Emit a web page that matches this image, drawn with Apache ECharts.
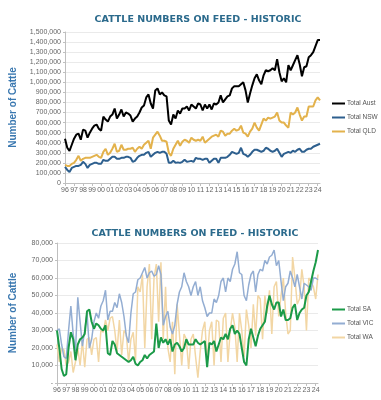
<!DOCTYPE html>
<html><head><meta charset="utf-8">
<script src="https://cdn.jsdelivr.net/npm/echarts@6/dist/echarts.min.js"></script>
<style>html,body{margin:0;padding:0;background:#fff}#c{width:381px;height:400px}</style>
</head><body><div id="c"></div>
<script>
const years = ['96','97','98','99','00','01','02','03','04','05','06','07','08','09','10','11','12','13','14','15','16','17','18','19','20','21','22','23','24'];
const nPoints = 114;
// Top chart (thousands of head)
const totalAust = [440,350,320,380,440,480,490,430,530,520,450,500,540,570,580,540,520,660,630,610,660,680,740,640,680,730,660,700,690,670,610,640,660,700,750,770,850,880,790,740,920,940,880,900,870,860,620,580,680,640,720,690,740,740,760,720,780,760,740,790,780,720,780,740,780,730,790,780,800,870,800,830,860,870,940,960,960,960,980,1000,920,800,890,970,1040,1080,1020,980,1070,1120,1110,1120,1140,1120,1230,1100,1010,1040,1000,1170,1120,1170,1220,1270,1180,1060,1150,1160,1250,1270,1300,1360,1420,1420];
const totalNSW = [160,130,110,150,160,170,170,180,210,190,150,180,190,200,200,190,190,230,220,220,240,260,260,240,240,250,250,260,260,250,210,220,250,270,280,280,300,310,260,280,300,310,300,310,310,290,200,200,220,200,205,200,210,230,210,215,220,210,250,240,240,230,240,240,200,220,240,240,200,250,250,250,260,280,310,300,290,300,350,290,280,260,280,310,330,330,320,310,320,350,340,320,310,320,340,300,260,290,300,310,300,320,310,330,340,310,310,330,340,340,360,370,380,390];
const totalQLD = [180,170,170,190,200,230,270,220,240,250,250,250,260,270,280,260,250,310,340,280,300,340,390,310,320,380,330,330,340,340,350,310,340,360,340,380,400,420,340,450,480,510,470,420,420,410,300,270,340,380,420,370,410,430,420,400,450,430,420,430,420,460,400,420,440,460,470,480,460,520,510,470,490,490,520,540,520,530,570,500,490,460,510,540,600,550,520,580,640,620,650,640,650,660,700,620,600,600,570,550,700,680,700,750,680,620,660,660,760,760,760,820,850,820];
// Bottom chart (thousands of head)
const totalSA = [30,20,8,4,5,20,29,25,13,22,25,26,28,41,42,35,31,34,33,31,30,33,17,16,24,22,17,16,15,14,13,12,13,15,11,10,12,13,16,14,16,17,18,34,20,26,23,25,22,25,18,22,23,21,18,20,25,22,22,22,25,23,22,23,24,9,23,22,24,18,22,26,25,28,25,31,33,28,30,28,20,12,10,25,31,26,21,27,31,33,35,44,50,45,42,46,46,38,42,36,36,37,43,45,36,40,42,43,50,52,58,64,69,76];
const totalVIC = [30,31,22,15,14,30,44,28,18,49,35,21,30,40,20,25,35,40,37,44,47,53,36,41,41,46,43,51,46,38,27,23,40,51,52,59,60,63,66,60,63,64,61,62,67,62,33,38,41,32,28,33,45,52,55,63,58,55,50,55,58,50,55,47,43,38,40,40,48,46,50,58,60,52,60,58,65,68,75,63,62,50,47,56,62,64,52,62,65,64,70,68,72,73,76,67,70,58,47,55,57,64,60,55,62,55,48,57,56,55,53,60,60,59];
const totalWA = [22,12,20,19,10,12,18,6,12,20,10,24,9,25,26,16,25,26,12,30,29,36,30,37,38,30,18,36,16,30,28,12,25,29,13,55,52,62,20,55,68,25,60,68,35,69,25,55,20,12,35,5,45,28,10,28,25,8,25,28,15,3,18,30,35,12,30,35,10,36,35,12,37,40,12,30,40,32,12,40,30,15,42,33,20,45,27,50,48,25,50,40,53,28,55,58,38,50,60,40,28,30,72,60,45,48,65,55,30,60,58,55,48,62];

const cats = [];
for (let i = 0; i < nPoints; i++) cats.push(years[Math.floor(i / 4)]);
const k = a => a.map(v => v * 1000);

const titleColor = '#2B6A8C';
const axisTxt = '#666';
const font = 'Liberation Sans, Arial, sans-serif';
const fmtTop = v => v === 0 ? '0' : v.toLocaleString('en-US');
const fmtBot = v => v === 0 ? '-' : v.toLocaleString('en-US');

function xAx(gi) {
  return {
    type: 'category', gridIndex: gi, data: cats, boundaryGap: false,
    axisLine: { lineStyle: { color: '#BFBFBF' } },
    axisTick: { show: true, interval: 3, length: 3, lineStyle: { color: '#BFBFBF' } },
    axisLabel: { interval: 3, color: axisTxt, fontSize: 7, fontFamily: font, margin: 4 },
    splitLine: { show: false }
  };
}
function yAx(gi, max, interval, fmt) {
  return {
    type: 'value', gridIndex: gi, min: 0, max: max, interval: interval,
    name: 'Number of Cattle', nameLocation: 'middle', nameRotate: 90,
    nameGap: gi === 0 ? 47 : 39,
    nameTextStyle: { color: '#3A78B0', fontSize: 10, fontWeight: 'bold', fontFamily: font },
    axisLine: { show: true, lineStyle: { color: '#BFBFBF' } },
    axisTick: { show: true, length: 2, lineStyle: { color: '#BFBFBF' } },
    axisLabel: { color: axisTxt, fontSize: 7, fontFamily: font, margin: 4, formatter: fmt },
    splitLine: { lineStyle: { color: '#EAEAEA', width: 1 } }
  };
}
function ln(name, data, color, width, gi) {
  return { name, type: 'line', data, xAxisIndex: gi, yAxisIndex: gi, symbol: 'none',
    lineStyle: { color, width }, itemStyle: { color }, animation: false };
}
const legendText = { color: '#555', fontSize: 6.5, fontFamily: font, padding: [0, 0, 0, -3] };

const chart = echarts.init(document.getElementById('c'), null, { renderer: 'canvas' });
chart.setOption({
  animation: false,
  backgroundColor: '#fff',
  title: [
    { text: 'CATTLE NUMBERS ON FEED - HISTORIC', left: 193, textAlign: 'center', top: 10,
      textStyle: { color: titleColor, fontSize: 9.5, fontWeight: 'bold', fontFamily: 'DejaVu Sans, sans-serif' } },
    { text: 'CATTLE NUMBERS ON FEED - HISTORIC', left: 190, textAlign: 'center', top: 224,
      textStyle: { color: titleColor, fontSize: 9.5, fontWeight: 'bold', fontFamily: 'DejaVu Sans, sans-serif' } }
  ],
  grid: [
    { left: 58, top: 32, width: 262, height: 151 },
    { left: 50, top: 243, width: 268, height: 140 }
  ],
  legend: [
    { data: ['Total Aust', 'Total NSW', 'Total QLD'], orient: 'vertical', left: 327, top: 95,
      icon: 'rect', itemWidth: 13, itemHeight: 2, itemGap: 7, textStyle: legendText },
    { data: ['Total SA', 'Total VIC', 'Total WA'], orient: 'vertical', left: 327, top: 301,
      icon: 'rect', itemWidth: 13, itemHeight: 2, itemGap: 7, textStyle: legendText }
  ],
  xAxis: [xAx(0), xAx(1)],
  yAxis: [yAx(0, 1500000, 100000, fmtTop), yAx(1, 80000, 10000, fmtBot)],
  series: [
    ln('Total Aust', k(totalAust), '#000000', 2, 0),
    ln('Total NSW', k(totalNSW), '#2D5F8E', 2, 0),
    ln('Total QLD', k(totalQLD), '#E3B24C', 2, 0),
    ln('Total WA', k(totalWA), '#F2D6A4', 1.5, 1),
    ln('Total VIC', k(totalVIC), '#93ADD2', 1.5, 1),
    ln('Total SA', k(totalSA), '#1B9A48', 2, 1)
  ]
});
</script></body></html>
